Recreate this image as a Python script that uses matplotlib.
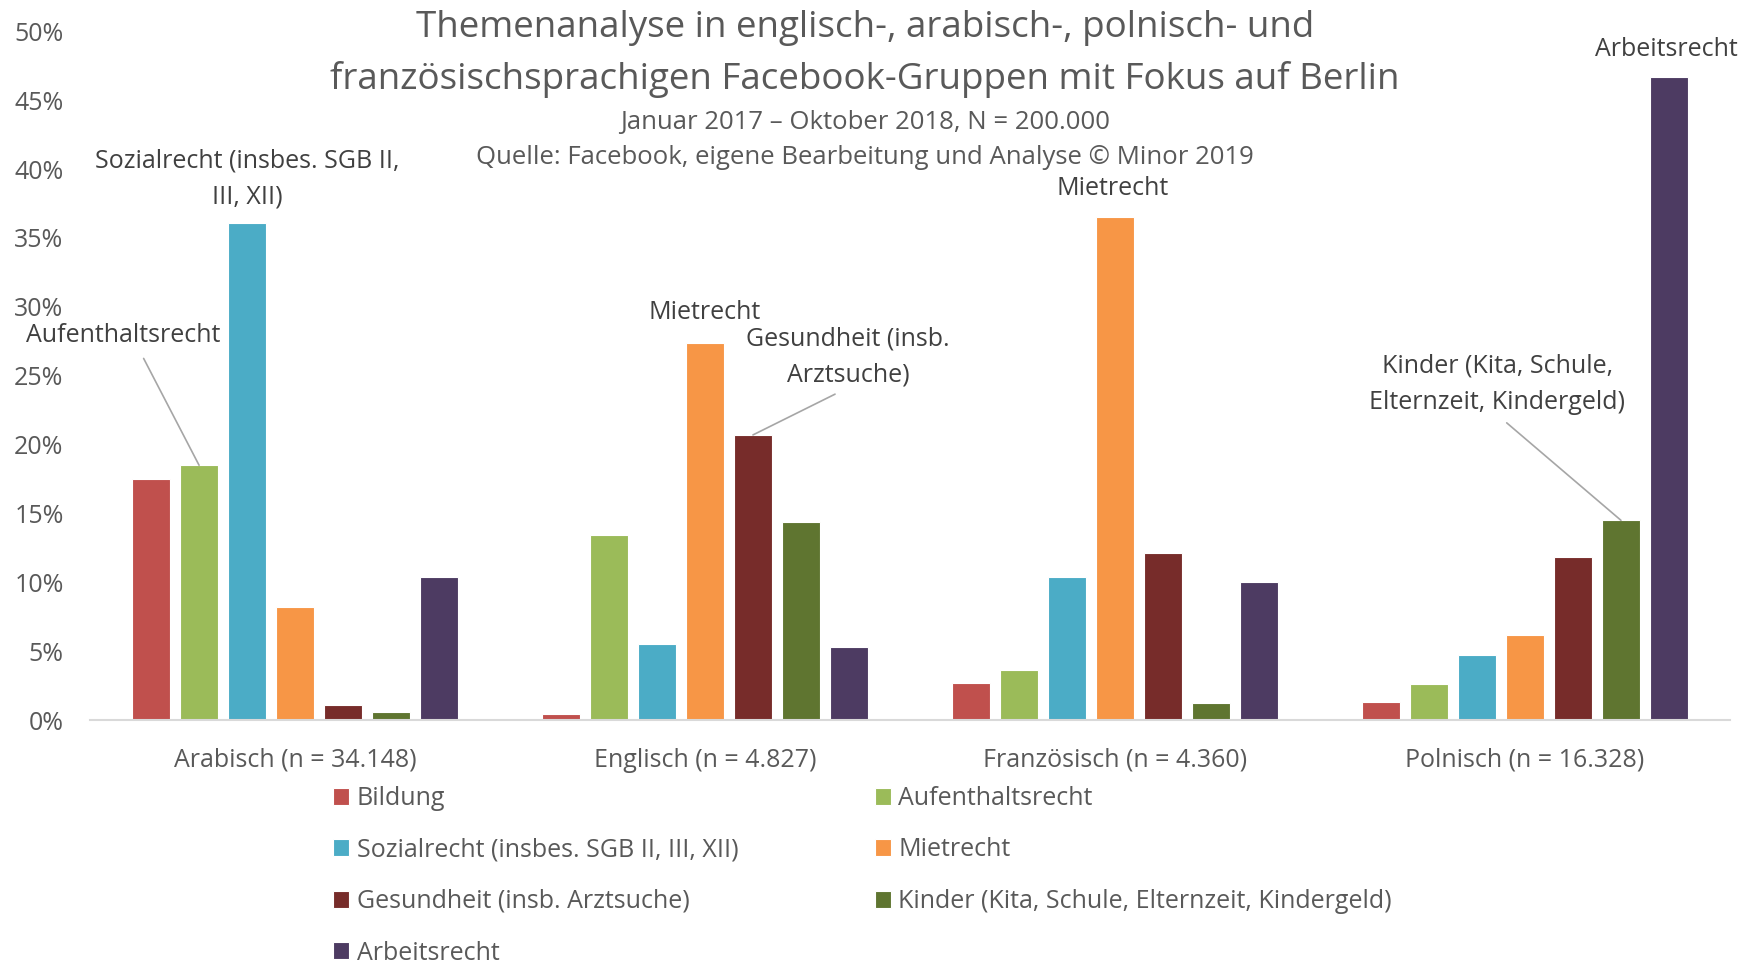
import matplotlib
matplotlib.use('Agg')
import matplotlib.pyplot as plt
import numpy as np
from matplotlib.ticker import PercentFormatter

plt.rcParams['font.family'] = ['Open Sans', 'DejaVu Sans']

# data (share of posts per topic)
groups = ['Arabisch (n = 34.148)', 'Englisch (n = 4.827)',
          'Französisch (n = 4.360)', 'Polnisch (n = 16.328)']
topics = ['Bildung', 'Aufenthaltsrecht', 'Sozialrecht (insbes. SGB II, III, XII)',
          'Mietrecht', 'Gesundheit (insb. Arztsuche)',
          'Kinder (Kita, Schule, Elternzeit, Kindergeld)', 'Arbeitsrecht']
bildung = [0.175, 0.004, 0.027, 0.013]
aufenthalt = [0.185, 0.134, 0.036, 0.026]
sozial = [0.361, 0.055, 0.104, 0.047]
miete = [0.082, 0.274, 0.365, 0.062]
gesundheit = [0.011, 0.207, 0.121, 0.118]
kinder = [0.006, 0.144, 0.012, 0.145]
arbeit = [0.104, 0.053, 0.100, 0.467]
colors = ['#C0504D', '#9BBB59', '#4BACC6', '#F79646', '#772C2A', '#5F7530', '#4D3B62']

series = [bildung, aufenthalt, sozial, miete, gesundheit, kinder, arbeit]
grey = '#595959'
dark = '#404040'
fs = 18

fig = plt.figure(figsize=(17.6, 9.64), dpi=100)
ax = fig.add_axes([90 / 1760, 1 - 720 / 964, 1640 / 1760, 688.6 / 964])

x = np.arange(len(groups))
step = 0.117
width = 0.094
bars = []
for j, (vals, c, name) in enumerate(zip(series, colors, topics)):
    b = ax.bar(x + (j - 3) * step, vals, width=width, color=c,
               edgecolor='white', linewidth=0.8, label=name)
    bars.append(b)


def barpos(j, i):
    return x[i] + (j - 3) * step, series[j][i]


# labels directly above bars
ax.text(barpos(2, 0)[0], 0.393, 'Sozialrecht (insbes. SGB II,\nIII, XII)',
        ha='center', va='center', fontsize=fs, color=dark, linespacing=1.6)
ax.text(1.0, 0.2956, 'Mietrecht', ha='center', va='center', fontsize=fs, color=dark)
ax.text(1.995, 0.3856, 'Mietrecht', ha='center', va='center', fontsize=fs, color=dark)
ax.text(3.346, 0.487, 'Arbeitsrecht', ha='center', va='center', fontsize=fs, color=dark)

# labels with leader lines
line = dict(arrowstyle='-', color='#A6A6A6', lw=1.2, shrinkB=0)
ax.annotate('Aufenthaltsrecht', xy=barpos(1, 0), xytext=(-0.42, 0.279),
            ha='center', va='center', fontsize=fs, color=dark,
            arrowprops=dict(line, relpos=(0.58, 0), shrinkA=6))
ax.annotate('Gesundheit (insb.\nArztsuche)', xy=barpos(4, 1), xytext=(1.349, 0.2636),
            ha='center', va='center', fontsize=fs, color=dark, linespacing=1.6,
            arrowprops=dict(line, relpos=(0.5, 0), shrinkA=6))
ax.annotate('Kinder (Kita, Schule,\nElternzeit, Kindergeld)', xy=barpos(5, 3),
            xytext=(2.932, 0.244), ha='center', va='center', fontsize=fs,
            color=dark, linespacing=1.6,
            arrowprops=dict(line, relpos=(0.5, 0), shrinkA=6))

ax.set_xlim(-0.5, 3.5)
ax.set_ylim(0, 0.5)
ax.set_yticks(np.arange(0, 0.51, 0.05))
ax.yaxis.set_major_formatter(PercentFormatter(1.0, decimals=0))
ax.set_xticks(x)
ax.set_xticklabels(groups)
ax.tick_params(axis='both', length=0, labelsize=fs, labelcolor=grey)
ax.tick_params(axis='y', pad=19)
ax.tick_params(axis='x', pad=20)
for s in ['top', 'right', 'left']:
    ax.spines[s].set_visible(False)
ax.spines['bottom'].set_color('#D9D9D9')
ax.spines['bottom'].set_linewidth(1.5)

# titles
fig.text(865 / 1760, 1 - 28 / 964, 'Themenanalyse in englisch-, arabisch-, polnisch- und',
         ha='center', va='center', fontsize=26.5, color=grey)
fig.text(865 / 1760, 1 - 80 / 964, 'französischsprachigen Facebook-Gruppen mit Fokus auf Berlin',
         ha='center', va='center', fontsize=26.5, color=grey)
fig.text(865 / 1760, 1 - 122 / 964, 'Januar 2017 – Oktober 2018, N = 200.000',
         ha='center', va='center', fontsize=18.5, color=grey)
fig.text(865 / 1760, 1 - 158 / 964, 'Quelle: Facebook, eigene Bearbeitung und Analyse © Minor 2019',
         ha='center', va='center', fontsize=18.5, color=grey)

# legend, filled row by row like the original
order = [0, 2, 4, 6, 1, 3, 5]
fig.legend([bars[k] for k in order], [topics[k] for k in order],
           loc='upper left', bbox_to_anchor=(333 / 1760, 1 - 786 / 964),
           ncol=2, frameon=False, fontsize=fs, labelcolor=grey,
           handlelength=0.65, handleheight=0.65, handletextpad=0.3,
           labelspacing=1.06, columnspacing=5.45, borderpad=0, borderaxespad=0)

plt.savefig('out.png', dpi=100)
